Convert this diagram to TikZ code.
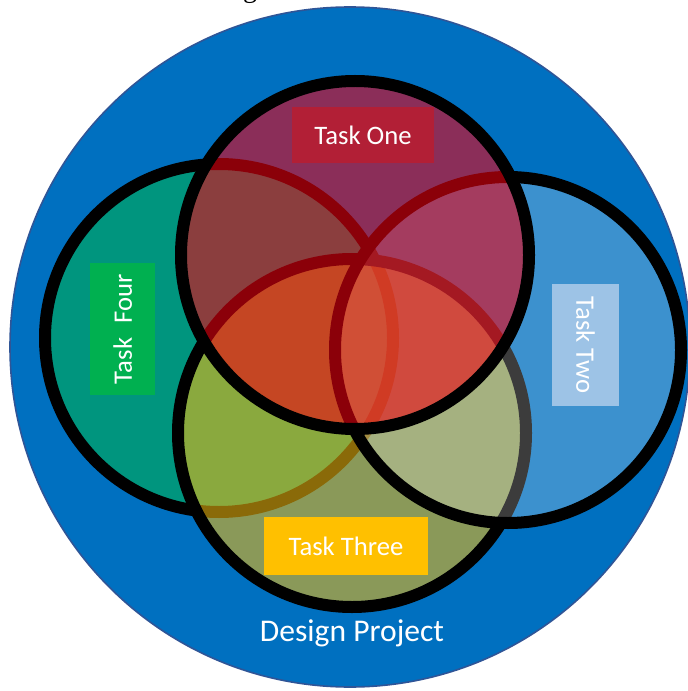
\documentclass[tikz,border=0pt]{standalone}
\usepackage{fontspec}
\setmainfont{Carlito}
\newfontfamily\captionserif{Liberation Serif}

% palette
\definecolor{projblue}{RGB}{0,112,192}
\definecolor{projedge}{RGB}{47,85,151}
\definecolor{fourfill}{RGB}{0,176,80}
\definecolor{threefill}{RGB}{238,184,16}
\definecolor{twofill}{RGB}{255,255,255}
\definecolor{onefill}{RGB}{240,0,16}
\definecolor{onebox}{RGB}{178,31,54}
\definecolor{fourbox}{RGB}{0,176,80}
\definecolor{twobox}{RGB}{157,195,230}
\definecolor{threebox}{RGB}{255,192,0}

\tikzset{
  taskring/.style={circle, draw=black, line width=9pt, inner sep=0pt,
                   minimum size=261pt},
  tasklabel/.style={text=white, inner sep=0pt,
                    font=\fontsize{20}{24}\selectfont},
}

\begin{document}
\begin{tikzpicture}[x=0.75pt,y=-0.75pt]
  \useasboundingbox (0,0) rectangle (687,691);

  % cut-off caption above the diagram
  \node[anchor=base, inner sep=0pt, font=\captionserif\fontsize{21}{24}\selectfont]
    (caption) at (250,-2) {g};

  % the project as a whole
  \node[circle, fill=projblue, draw=projedge, line width=1.2pt, inner sep=0pt,
        minimum size=510pt] (project) at (350,347) {};

  % the four overlapping tasks (drawing order sets the blending)
  \node[taskring, fill=fourfill, fill opacity=0.58] (four)  at (219,338) {};
  \node[taskring, fill=threefill, fill opacity=0.58] (three) at (352,433) {};
  \node[taskring, fill=twofill, fill opacity=0.235, minimum size=259.5pt] (two) at (508,350) {};
  \node[taskring, fill=onefill, fill opacity=0.58] (one) at (355,255) {};

  % labels
  \node[tasklabel, fill=onebox, minimum width=106.5pt, minimum height=42pt]
    (lone) at (363,135) {Task One};
  \node[tasklabel, fill=fourbox, minimum width=99pt, minimum height=49pt, rotate=90]
    (lfour) at (122.8,329) {Task\hspace{0.55em}Four};
  \node[tasklabel, fill=twobox, minimum width=92pt, minimum height=50pt, rotate=-90]
    (ltwo) at (585.5,345) {Task Two};
  \node[tasklabel, fill=threebox, minimum width=123pt, minimum height=43pt]
    (lthree) at (346,546) {Task Three\hspace{0.3em}};
  \node[text=white, inner sep=0pt, font=\fontsize{23.7}{28}\selectfont]
    (lproject) at (352,633) {Design Project};
\end{tikzpicture}
\end{document}
